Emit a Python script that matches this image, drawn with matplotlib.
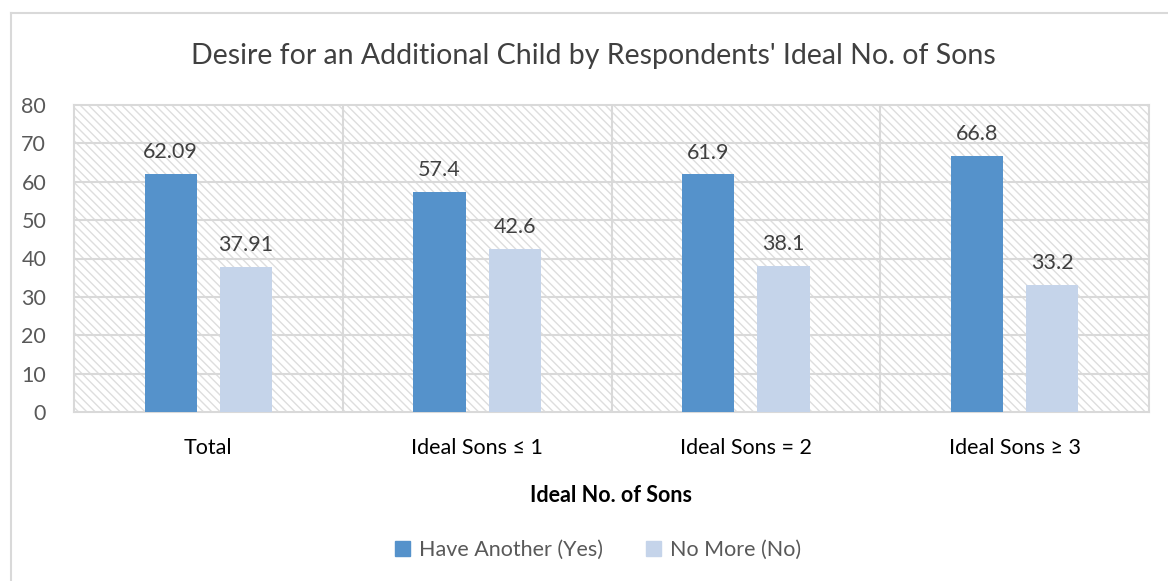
import matplotlib.pyplot as plt
import numpy as np
from matplotlib.patches import Rectangle
from matplotlib.lines import Line2D

# Data
categories = ["Total", "Ideal Sons \u2264 1", "Ideal Sons = 2", "Ideal Sons \u2265 3"]
have_another = [62.09, 57.4, 61.9, 66.8]
no_more = [37.91, 42.6, 38.1, 33.2]
have_labels = ["62.09", "57.4", "61.9", "66.8"]
no_labels = ["37.91", "42.6", "38.1", "33.2"]

blue = "#5592cb"
light = "#c5d4ea"
grid = "#d9d9d9"
fs = 15.5

plt.rcParams['font.family'] = ['Lato', 'DejaVu Sans']
plt.rcParams['hatch.linewidth'] = 1.0

fig = plt.figure(figsize=(11.68, 5.81), dpi=100)
ax = fig.add_axes([74 / 1168, 1 - 412 / 581, (1149 - 74) / 1168, (412 - 105) / 581])

x = np.arange(len(categories))
w = 0.195
off = 0.14

# hatched plot area background
ax.add_patch(Rectangle((0, 0), 1, 1, transform=ax.transAxes, facecolor="white",
                       edgecolor="#dedede", linewidth=0, hatch="\\\\\\\\", zorder=0.5))

ax.bar(x - off, have_another, w, color=blue, zorder=3)
ax.bar(x + off, no_more, w, color=light, zorder=3)

for xi, v, s in zip(x - off, have_another, have_labels):
    ax.text(xi, v + 3.0, s, ha="center", va="bottom", fontsize=fs, color="#404040")
for xi, v, s in zip(x + off, no_more, no_labels):
    ax.text(xi, v + 3.0, s, ha="center", va="bottom", fontsize=fs, color="#404040")

ax.set_xlim(-0.5, len(categories) - 0.5)
ax.set_ylim(0, 80)
ax.set_yticks(range(0, 81, 10))
ax.set_xticks(x)
ax.set_xticklabels(categories, fontsize=fs, color="black")
ax.tick_params(axis="y", labelsize=fs, labelcolor="#595959", length=0, pad=20)
ax.tick_params(axis="x", length=0, pad=19)

for yv in range(10, 80, 10):
    ax.axhline(yv, color=grid, lw=1.5, zorder=1)
for xv in np.arange(0.5, len(categories) - 0.5, 1):
    ax.axvline(xv, color=grid, lw=1.5, zorder=1)
for sp in ax.spines.values():
    sp.set_color(grid)
    sp.set_linewidth(1.5)

ax.set_xlabel("Ideal No. of Sons", fontsize=fs, fontweight="bold", labelpad=19)

fig.text(593 / 1168, 1 - 56 / 581, "Desire for an Additional Child by Respondents' Ideal No. of Sons",
         ha="center", va="center", fontsize=20.5, color="#404040")

handles = [Rectangle((0, 0), 1, 1, color=blue), Rectangle((0, 0), 1, 1, color=light)]
fig.legend(handles, ["Have Another (Yes)", "No More (No)"], loc="center",
           bbox_to_anchor=(598 / 1168, 1 - 550 / 581), ncol=2, frameon=False,
           fontsize=fs, handlelength=0.7, handleheight=0.7, columnspacing=2.0,
           handletextpad=0.4, labelcolor="#595959")

# outer chart border (left and top)
fig.add_artist(Line2D([10.5 / 1168, 10.5 / 1168], [0, 1 - 13 / 581], color=grid, lw=1.5))
fig.add_artist(Line2D([10.5 / 1168, 1], [1 - 13 / 581, 1 - 13 / 581], color=grid, lw=1.5))

fig.savefig("out.png", dpi=100)
